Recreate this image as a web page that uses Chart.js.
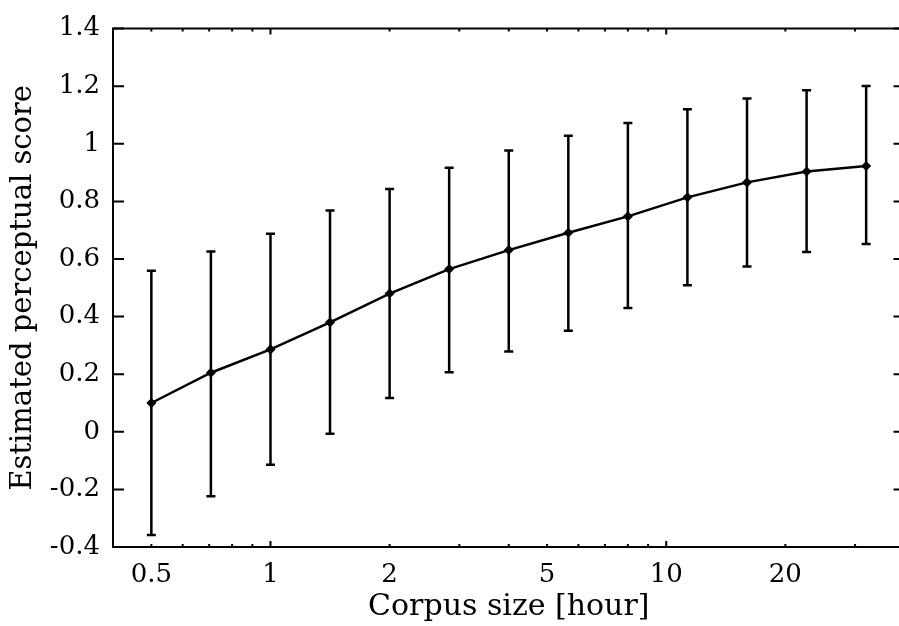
<!DOCTYPE html>
<html>
<head>
<meta charset="utf-8">
<script src="https://cdn.jsdelivr.net/npm/chart.js@4/dist/chart.umd.min.js"></script>
<style>
  html, body { margin: 0; padding: 0; background: #fff; overflow: hidden; }
  #wrap { width: 899px; height: 626px; overflow: hidden; }
  canvas { display: block; }
</style>
</head>
<body>
<div id="wrap"><canvas id="c" width="910" height="626"></canvas></div>
<script>
// Corpus size in hours (sqrt(2) steps) and the estimated perceptual score
const hours = [0.5, 0.707, 1, 1.414, 2, 2.828, 4, 5.657, 8, 11.31, 16, 22.63, 32];
const score = [0.100, 0.205, 0.286, 0.380, 0.480, 0.565, 0.631, 0.691, 0.748, 0.814, 0.866, 0.904, 0.923];
const upper = [0.559, 0.626, 0.688, 0.768, 0.843, 0.917, 0.977, 1.028, 1.072, 1.120, 1.157, 1.186, 1.201];
const lower = [-0.358, -0.224, -0.114, -0.007, 0.117, 0.207, 0.279, 0.351, 0.430, 0.509, 0.574, 0.624, 0.652];

// Axis ticks
const xLabelTicks = [0.5, 1, 2, 5, 10, 20];
const xMajorTicks = [1, 10];
const xMinorTicks = [0.5, 0.6, 0.7, 0.8, 0.9, 2, 3, 4, 5, 6, 7, 8, 9, 20, 30];
const yTicks = [-0.4, -0.2, 0, 0.2, 0.4, 0.6, 0.8, 1, 1.2, 1.4];

const FONT = "'DejaVu Serif', 'Liberation Serif', serif";

// Error bars under the line, frame and inward ticks on top
const errorBars = {
  id: 'errorBars',
  beforeDatasetsDraw(chart) {
    const {ctx, scales: {x, y}} = chart;
    ctx.save();
    ctx.strokeStyle = '#000';
    ctx.lineWidth = 2.5;
    ctx.lineCap = 'butt';
    hours.forEach((h, i) => {
      const px = x.getPixelForValue(h);
      const pTop = y.getPixelForValue(upper[i]);
      const pBot = y.getPixelForValue(lower[i]);
      ctx.beginPath();
      ctx.moveTo(px, pTop);
      ctx.lineTo(px, pBot);
      ctx.moveTo(px - 4.5, pTop);
      ctx.lineTo(px + 4.5, pTop);
      ctx.moveTo(px - 4.5, pBot);
      ctx.lineTo(px + 4.5, pBot);
      ctx.stroke();
    });
    ctx.restore();
  }
};

const frame = {
  id: 'frame',
  afterDraw(chart) {
    const {ctx, chartArea: a, scales: {x, y}} = chart;
    ctx.save();
    ctx.strokeStyle = '#000';
    ctx.lineWidth = 2;
    ctx.beginPath();
    ctx.rect(a.left, a.top, a.right - a.left, a.bottom - a.top);
    ctx.stroke();
    ctx.beginPath();
    yTicks.forEach(v => {
      const py = y.getPixelForValue(v);
      ctx.moveTo(a.left, py); ctx.lineTo(a.left + 11, py);
      ctx.moveTo(a.right, py); ctx.lineTo(a.right - 11, py);
    });
    xMajorTicks.forEach(v => {
      const px = x.getPixelForValue(v);
      ctx.moveTo(px, a.bottom); ctx.lineTo(px, a.bottom - 6);
      ctx.moveTo(px, a.top); ctx.lineTo(px, a.top + 6);
    });
    xMinorTicks.forEach(v => {
      const px = x.getPixelForValue(v);
      ctx.moveTo(px, a.bottom); ctx.lineTo(px, a.bottom - 3);
      ctx.moveTo(px, a.top); ctx.lineTo(px, a.top + 3);
    });
    ctx.stroke();
    ctx.restore();
  }
};

new Chart(document.getElementById('c'), {
  type: 'line',
  data: {
    datasets: [{
      data: hours.map((h, i) => ({x: h, y: score[i]})),
      borderColor: '#000',
      borderWidth: 2.5,
      tension: 0,
      pointStyle: 'rectRot',
      pointRadius: 4,
      pointBackgroundColor: '#000',
      pointBorderColor: '#000',
      pointBorderWidth: 1.5
    }]
  },
  options: {
    responsive: false,
    animation: false,
    devicePixelRatio: 1,
    layout: { padding: { top: 22, right: 3, left: 0, bottom: 0 } },
    plugins: { legend: { display: false }, tooltip: { enabled: false } },
    scales: {
      x: {
        type: 'logarithmic',
        min: 0.4,
        max: 40,
        grid: { display: false, drawTicks: false },
        border: { display: false },
        afterBuildTicks(scale) { scale.ticks = xLabelTicks.map(v => ({value: v})); },
        afterFit(scale) { scale.height = 79; },
        ticks: {
          autoSkip: false,
          maxRotation: 0,
          padding: 13,
          color: '#000',
          font: { family: FONT, size: 26 },
          callback: v => String(v)
        },
        title: {
          display: true,
          text: 'Corpus size [hour]',
          color: '#000',
          font: { family: FONT, size: 30, lineHeight: 1.2 },
          padding: { top: 0, bottom: 1 }
        }
      },
      y: {
        min: -0.4,
        max: 1.4,
        grid: { display: false, drawTicks: false },
        border: { display: false },
        afterBuildTicks(scale) { scale.ticks = yTicks.map(v => ({value: v})); },
        afterFit(scale) { scale.width = 113; },
        ticks: {
          padding: 13,
          color: '#000',
          font: { family: FONT, size: 26 },
          callback: v => String(Math.round(v * 10) / 10)
        },
        title: {
          display: true,
          text: 'Estimated perceptual score',
          color: '#000',
          font: { family: FONT, size: 29, lineHeight: 1.2 },
          padding: { top: 6, bottom: 0 }
        }
      }
    }
  },
  plugins: [errorBars, frame]
});
</script>
</body>
</html>
